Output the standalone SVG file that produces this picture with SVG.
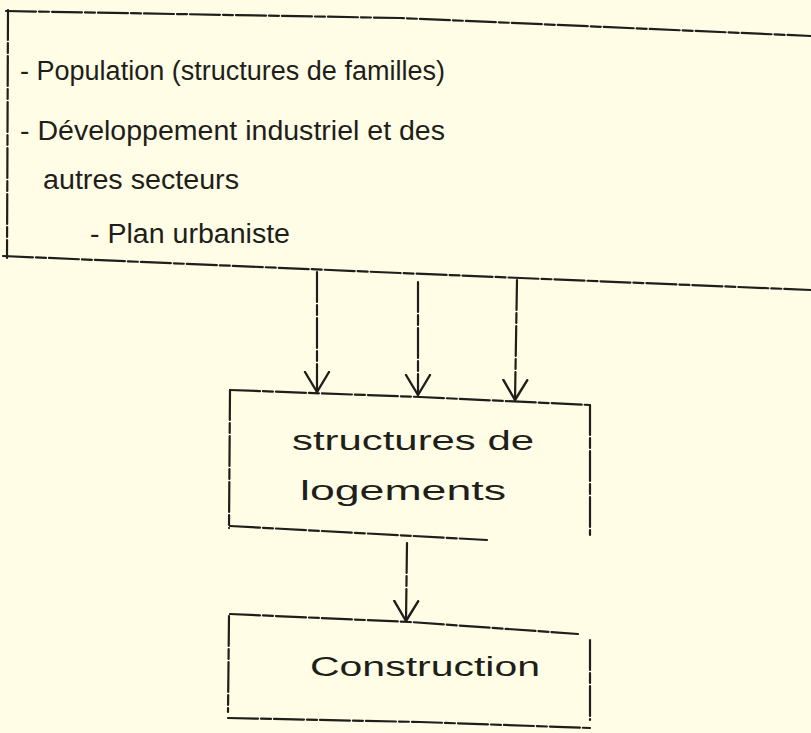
<svg xmlns="http://www.w3.org/2000/svg" width="811" height="733" viewBox="0 0 811 733">
<defs>
<style>
.bg{fill:#fffde6}
.ln{fill:none;stroke:#1e1e1a;stroke-width:2.2;stroke-dasharray:30 3 10 3;stroke-linecap:round}
.tx{font-family:"Liberation Sans",Arial,sans-serif;font-size:27px;fill:#1e1e1a}
.ah{fill:none;stroke:#1e1e1a;stroke-width:2.4;stroke-linecap:round;stroke-linejoin:round}
</style>
<marker id="arr" markerWidth="24" markerHeight="28" refX="21" refY="14" orient="auto" markerUnits="userSpaceOnUse" viewBox="0 0 24 28">
<path class="ah" d="M1 2 L21 14 L1 26"/>
</marker>
</defs>
<rect class="bg" x="0" y="0" width="811" height="733"/>
<g id="node-top">
<path class="ln" d="M6 11 L400 18 L811 36"/>
<path class="ln" d="M8 10 L7 258"/>
<path class="ln" d="M3 256 L400 273 L811 290"/>
<text class="tx" x="20" y="80" textLength="425" lengthAdjust="spacingAndGlyphs">- Population (structures de familles)</text>
<text class="tx" x="20" y="140" textLength="425" lengthAdjust="spacingAndGlyphs">- Développement industriel et des</text>
<text class="tx" x="43" y="189" textLength="196" lengthAdjust="spacingAndGlyphs">autres secteurs</text>
<text class="tx" x="90" y="243" textLength="200" lengthAdjust="spacingAndGlyphs">- Plan urbaniste</text>
</g>
<g id="node-structures">
<path class="ln" d="M230 390 L420 397 L590 405"/>
<path class="ln" d="M230 390 L229 528"/>
<path class="ln" d="M590 405 L590 535"/>
<path class="ln" d="M230 526 L487 540"/>
<text class="tx" x="292" y="450" textLength="242" lengthAdjust="spacingAndGlyphs">structures de</text>
<text class="tx" x="300" y="500" textLength="206" lengthAdjust="spacingAndGlyphs">logements</text>
</g>
<g id="node-construction">
<path class="ln" d="M230 614 L410 622 L578 634"/>
<path class="ln" d="M229 616 L228 712"/>
<path class="ln" d="M590 640 L590 720"/>
<path class="ln" d="M228 718 L420 722 L590 728"/>
<text class="tx" x="310" y="676" textLength="230" lengthAdjust="spacingAndGlyphs">Construction</text>
</g>
<g id="connectors">
<path class="ln" d="M317 272 L317 392" marker-end="url(#arr)"/>
<path class="ln" d="M418 282 L418 395" marker-end="url(#arr)"/>
<path class="ln" d="M517 280 L515 400" marker-end="url(#arr)"/>
<path class="ln" d="M407 543 L406 621" marker-end="url(#arr)"/>
</g>
</svg>
